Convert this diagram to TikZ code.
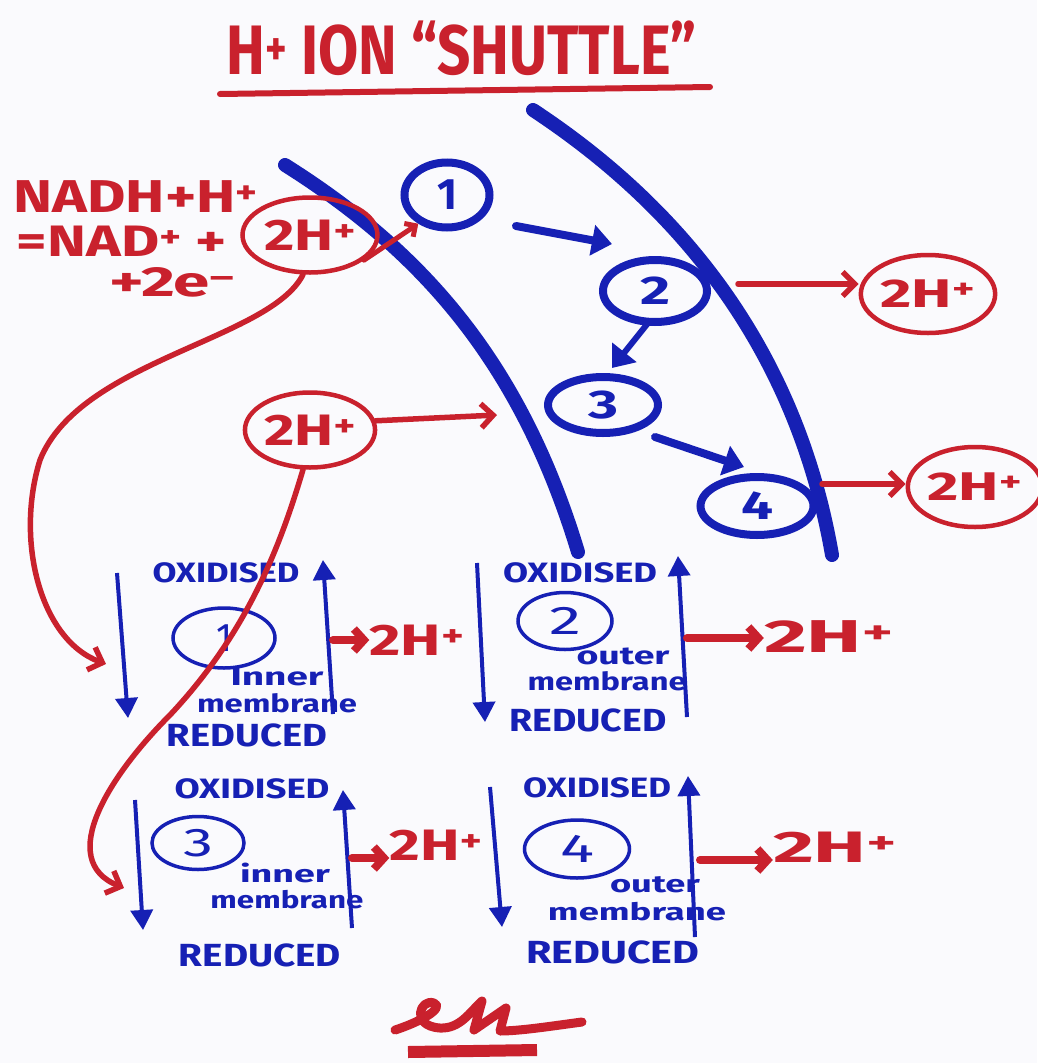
\documentclass[tikz,border=0pt]{standalone}
\usepackage{fontspec}
\setmainfont{Fira Sans}
\usetikzlibrary{shapes.geometric,arrows.meta}
\definecolor{pred}{RGB}{201,33,45}
\definecolor{pblue}{RGB}{22,32,180}
\definecolor{paper}{RGB}{250,250,253}
\newcommand\fitt[3]{\resizebox{#1pt}{\height}{\fontsize{#2}{#2}\selectfont\bfseries #3}}
\newcommand\fitm[3]{\resizebox{#1pt}{\height}{\fontsize{#2}{#2}\selectfont #3}}
\begin{document}
\begin{tikzpicture}[x=1pt,y=-1pt,
  rt/.style={text=pred,inner sep=0pt},
  bt/.style={text=pblue,inner sep=0pt},
  rcirc/.style={ellipse,draw=pred,line width=4.5pt,inner sep=0pt,text=pred},
  bcirc/.style={ellipse,draw=pblue,line width=8pt,inner sep=0pt,text=pblue},
  bsmall/.style={ellipse,draw=pblue,line width=3.5pt,inner sep=0pt,text=pblue},
  membrane/.style={draw=pblue,line width=14pt,line cap=round},
  rline/.style={draw=pred,line width=5pt,line cap=round},
  rarrow/.style={draw=pred,line width=5.5pt,line cap=round,-{Straight Barb[length=12pt,width=24pt]}},
  rfat/.style={draw=pred,line width=8pt,line cap=round,-{Straight Barb[length=10pt,width=22pt]}},
  barrow/.style={draw=pblue,line width=8pt,line cap=round,-{Triangle[length=20pt,width=30pt]}},
  bbox/.style={draw=pblue,line width=4pt,-{Triangle[length=20pt,width=22pt]}},
]
\useasboundingbox[fill=paper] (0,0) rectangle (1037,1063);

% title
\node[rt] (title) at (462,48) {\fitt{470}{70}{H\textsuperscript{+} ION “SHUTTLE”}};
\draw[pred,line width=6pt,line cap=round] (220,94) -- (710,87);

% membranes
\draw[membrane] (285,165) .. controls (420,250) and (520,360) .. (578,552);
\draw[membrane] (533,110) .. controls (700,220) and (800,370) .. (832,555);

% equation at left
\node[rt] (nadh) at (136,197) {\fitt{245}{46}{NADH+H\textsuperscript{+}}};
\node[rt] (nad) at (122,241) {\fitt{210}{44}{=NAD\textsuperscript{+} +}};
\node[rt] (e2) at (172,282) {\fitt{125}{42}{+2e\textsuperscript{–}}};
\node[rcirc,minimum width=135pt,minimum height=75pt] (L2H) at (310,235) {\fitt{92}{44}{2H\textsuperscript{+}}};

% numbered carriers on the membrane
\node[bcirc,minimum width=85pt,minimum height=65pt] (c1) at (447,195) {\fitt{20}{44}{1}};
\node[bcirc,minimum width=104pt,minimum height=62pt] (c2) at (655,291) {\fitt{30}{40}{2}};
\node[bcirc,minimum width=110pt,minimum height=56pt] (c3) at (603,405) {\fitt{30}{40}{3}};
\node[bcirc,minimum width=113pt,minimum height=58pt] (c4) at (757,506) {\fitt{32}{40}{4}};

\coordinate (a12s) at (516,226);
\coordinate (a12e) at (612,244);
\coordinate (a23s) at (648,323);
\coordinate (a23e) at (612,368);
\coordinate (a34s) at (655,437);
\coordinate (a34e) at (744,467);
\draw[barrow] (a12s) -- (a12e);
\draw[barrow,line width=6pt] (a23s) -- (a23e);
\draw[barrow] (a34s) -- (a34e);

% red crossing stroke towards carrier 1
\draw[rline,-{Straight Barb[length=8pt,width=16pt]}] (L2H.-25) -- (c1.225);

% middle 2H+
\node[rcirc,minimum width=118pt,minimum height=75pt] (M2H) at (310,430) {\fitt{92}{44}{2H\textsuperscript{+}}};
\coordinate (im) at (497,415);
\draw[rarrow] (M2H.8) -- (im);

% right 2H+ circles
\node[rcirc,minimum width=130pt,minimum height=78pt] (R1) at (928,294) {\fitt{95}{40}{2H\textsuperscript{+}}};
\node[rcirc,minimum width=120pt,minimum height=80pt] (R2) at (975,487) {\fitt{95}{40}{2H\textsuperscript{+}}};
\coordinate (om1) at (738,284);
\coordinate (om2) at (822,484);
\draw[rarrow] (om1) -- (om1 -| R1.west);
\draw[rarrow] (om2) -- (om2 -| R2.west);

% ---------- box 1 ----------
\coordinate (b1dt) at (117,573);
\coordinate (b1db) at (128,718);
\coordinate (b1ub) at (333,714);
\coordinate (b1ut) at (323,560);
\draw[bbox] (b1dt) -- (b1db);
\draw[bbox] (b1ub) -- (b1ut);
\node[bt] (o1) at (226,573) {\fitt{147}{28}{OXIDISED}};
\node[bsmall,minimum width=102pt,minimum height=60pt] (s1) at (224,638) {\fitm{16}{40}{1}};
\node[bt] (i1) at (277,677) {\fitt{93}{25}{Inner}};
\node[bt] (m1) at (277,703) {\fitt{160}{25}{membrane}};
\node[bt] (r1) at (247,735) {\fitt{160}{32}{REDUCED}};
\node[rt] (h1) at (417,640) {\fitt{95}{44}{2H\textsuperscript{+}}};
\coordinate (b1r) at (333,640);
\draw[rfat] (b1r) -- (b1r -| h1.west);

% ---------- box 2 ----------
\coordinate (b2dt) at (477,563);
\coordinate (b2db) at (485,722);
\coordinate (b2ub) at (687,717);
\coordinate (b2ut) at (678,556);
\draw[bbox] (b2dt) -- (b2db);
\draw[bbox] (b2ub) -- (b2ut);
\node[bt] (o2) at (580,573) {\fitt{154}{28}{OXIDISED}};
\node[bsmall,minimum width=94pt,minimum height=57pt] (s2) at (565,621) {\fitm{32}{40}{2}};
\node[bt] (i2) at (623,656) {\fitt{93}{25}{outer}};
\node[bt] (m2) at (607,681) {\fitt{159}{25}{membrane}};
\node[bt] (r2) at (588,720) {\fitt{157}{32}{REDUCED}};
\node[rt] (h2) at (829,637) {\fitt{130}{46}{2H\textsuperscript{+}}};
\coordinate (b2r) at (687,638);
\draw[rfat] (b2r) -- (b2r -| h2.west);

% ---------- box 3 ----------
\coordinate (b3dt) at (135,800);
\coordinate (b3db) at (143,930);
\coordinate (b3ub) at (352,928);
\coordinate (b3ut) at (343,790);
\draw[bbox] (b3dt) -- (b3db);
\draw[bbox] (b3ub) -- (b3ut);
\node[bt] (o3) at (252,789) {\fitt{155}{28}{OXIDISED}};
\node[bsmall,minimum width=92pt,minimum height=53pt] (s3) at (198,843) {\fitm{30}{40}{3}};
\node[bt] (i3) at (285,873) {\fitt{90}{24}{inner}};
\node[bt] (m3) at (287,900) {\fitt{153}{24}{membrane}};
\node[bt] (r3) at (260,955) {\fitt{162}{32}{REDUCED}};
\node[rt] (h3) at (436,845) {\fitt{93}{44}{2H\textsuperscript{+}}};
\coordinate (b3r) at (352,858);
\draw[rfat] (b3r) -- (b3r -| h3.west);

% ---------- box 4 ----------
\coordinate (b4dt) at (490,787);
\coordinate (b4db) at (502,927);
\coordinate (b4ub) at (695,937);
\coordinate (b4ut) at (688,776);
\draw[bbox] (b4dt) -- (b4db);
\draw[bbox] (b4ub) -- (b4ut);
\node[bt] (o4) at (597,788) {\fitt{148}{28}{OXIDISED}};
\node[bsmall,minimum width=105pt,minimum height=58pt] (s4) at (577,849) {\fitm{34}{40}{4}};
\node[bt] (i4) at (655,885) {\fitt{90}{24}{outer}};
\node[bt] (m4) at (637,912) {\fitt{178}{24}{membrane}};
\node[bt] (r4) at (613,952) {\fitt{173}{32}{REDUCED}};
\node[rt] (h4) at (835,847) {\fitt{124}{44}{2H\textsuperscript{+}}};
\coordinate (b4r) at (700,860);
\draw[rfat] (b4r) -- (b4r -| h4.west);

% long red curves into the boxes
\coordinate (t1) at (106,664);
\coordinate (t3) at (124,888);
\draw[rarrow] (L2H.-100) .. controls (270,340) and (80,360) .. (40,460)
   .. controls (15,540) and (40,640) .. (t1);
\draw[rarrow] (M2H.-100) .. controls (282,540) and (250,630) .. (170,715)
   .. controls (110,775) and (55,860) .. (t3);

% signature
\draw[pred,line width=9pt,line cap=round,line join=round]
  (395,1030) .. controls (420,1022) and (445,1008) .. (434,1003)
  .. controls (420,998) and (410,1026) .. (440,1028)
  .. controls (460,1029) and (470,1012) .. (482,1001) -- (474,1030) -- (506,1008) -- (500,1031)
  .. controls (520,1031) and (552,1026) .. (582,1022);
\draw[pred,line width=12pt] (408,1052) -- (537,1050);
\end{tikzpicture}
\end{document}
